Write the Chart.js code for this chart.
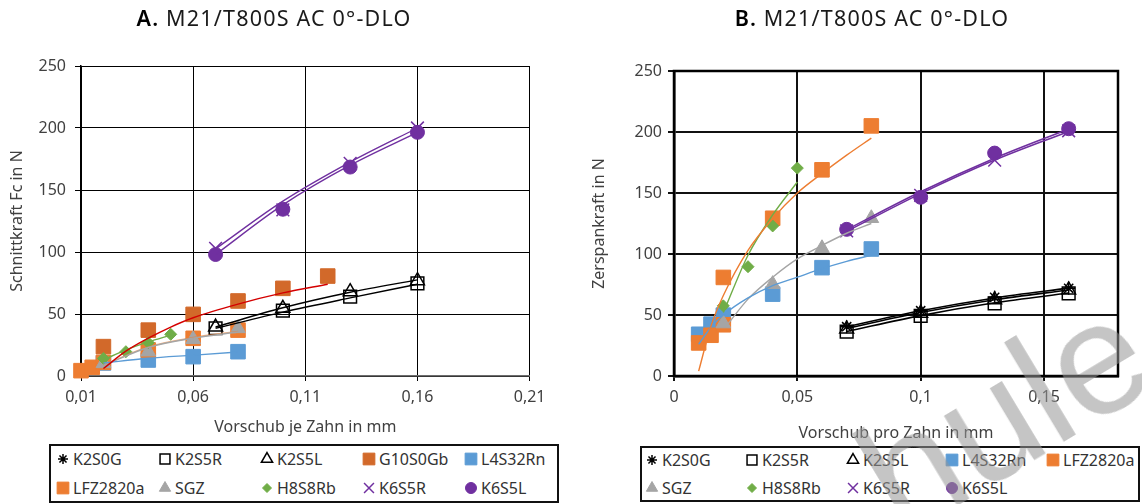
<!DOCTYPE html>
<html>
<head>
<meta charset="utf-8">
<script src="https://cdn.jsdelivr.net/npm/chart.js@4.4.1/dist/chart.umd.min.js"></script>
<style>
  html, body { margin: 0; padding: 0; background: #fff; }
  body { width: 1142px; height: 504px; position: relative; overflow: hidden; font-family: 'Noto Sans', sans-serif; }
  .panel { position: absolute; top: 0; width: 571px; height: 444px; }
  .title { position: absolute; top: 4px; font-size: 21.5px; line-height: 28px; letter-spacing: 1.2px; color: #1a1a1a; white-space: nowrap; transform: translateX(-50%); }
  .title b { font-weight: 600; color: #000; }
  .legend { position: absolute; border: 2px solid #111; box-sizing: border-box; }
  .lg-item { position: absolute; font-size: 16px; line-height: 20px; color: #333; white-space: nowrap; }
  .lg-item canvas { position: absolute; left: -18px; top: 2px; }
  .wm { position: absolute; left: 902px; top: 404px; font: 160px/160px 'Liberation Sans', sans-serif;
        color: rgba(150,150,150,0.55); transform-origin: 0 135px; transform: rotate(-31deg);
        white-space: nowrap; pointer-events: none; }
</style>
</head>
<body>
<div class="panel" style="left:0"><canvas id="chartA" width="571" height="444"></canvas></div>
<div class="panel" style="left:571px"><canvas id="chartB" width="571" height="444"></canvas></div>
<div class="title" style="left:274px"><b>A.</b> M21/T800S AC 0°-DLO</div>
<div class="title" style="left:872px"><b>B.</b> M21/T800S AC 0°-DLO</div>
<div class="legend" id="legendA" style="left:49px;top:444px;width:510px;height:59px"></div>
<div class="legend" id="legendB" style="left:640px;top:446px;width:500px;height:56px"></div>
<div class="wm">hule E</div>

<script>
/* ── Vorschub-Stufen (mm) ── */
var xK   = [0.07, 0.10, 0.13, 0.16];
var xA   = [0.02, 0.04, 0.06, 0.08];
var xH8  = [0.02, 0.03, 0.04, 0.05];
var xG10 = [0.02, 0.04, 0.06, 0.08, 0.10, 0.12];
var xLFZa = [0.01, 0.015, 0.02, 0.04, 0.06, 0.08];
var xLFZb = [0.01, 0.015, 0.02, 0.02, 0.04, 0.06, 0.08];
var xL4Sb = [0.01, 0.015, 0.02, 0.04, 0.06, 0.08];

/* ── A: Schnittkraft Fc in N ── */
var aK2S5R   = [38.5, 52.7, 64, 74.7];
var aK2S5L   = [39.5, 54.6, 68, 76.9];
var aG10S0Gb = [23.7, 37, 49.7, 60.5, 70.7, 80.6];
var aL4S32Rn = [10.5, 12.9, 15.6, 19.6];
var aLFZ2820a = [4.3, 7, 11, 21, 30.4, 37];
var aSGZ     = [10.2, 19.6, 29.6, 38.4];
var aH8S8Rb  = [14.2, 19.6, 26.9, 33.6];
var aK6S5R   = [103, 134, 171.5, 200];
var aK6S5L   = [98, 134.5, 168.5, 196.5];

// Trendlinien A
var xTrG10  = [0.02, 0.03, 0.04, 0.05, 0.06, 0.08, 0.10, 0.12];
var aTrG10  = [6, 20, 30.5, 39.5, 47, 58, 67, 74];
var aTrL4S  = [10.5, 14.3, 16.8, 19.3];
var aTrLFZ  = [9, 23.5, 31, 36];
var aTrSGZ  = [8.5, 23, 30.5, 35.5];
var aTrH8   = [13, 21, 27.5, 33];
var aTrK2S5R = [38.5, 51.5, 63, 74];
var aTrK2S5L = [39.5, 55, 67.5, 77.5];
var aTrK6S5R = [102.5, 141, 172.5, 200];
var aTrK6S5L = [98, 138, 170, 196.5];

/* ── B: Zerspankraft in N ── */
var bK2S0G   = [40.4, 53.5, 64.5, 71.9];
var bK2S5R   = [36.3, 49.2, 59.6, 67.8];
var bK2S5L   = [38.5, 51.5, 62.5, 70.5];
var bL4S32Rn = [34.2, 42.5, 49.9, 67.1, 88.8, 104.1];
var bLFZ2820a = [27.1, 33.4, 80.8, 42, 129.3, 169, 205];
var bSGZ     = [43, 75.3, 104.7, 129.3];
var bH8S8Rb  = [57.5, 89.6, 123, 170.4];
var bK6S5R   = [119, 148, 177, 201];
var bK6S5L   = [120.2, 146.5, 182.7, 202.7];

// Trendlinien B
var xTrB    = [0.01, 0.015, 0.02, 0.03, 0.04, 0.05, 0.06, 0.07, 0.08];
var bTrLFZ  = [4, 41, 66, 103, 129, 150, 166, 181, 195];
var bTrL4S  = [26, 40, 50, 64, 74, 81, 88, 94, 99];
var xTrSGZ  = [0.022, 0.03, 0.04, 0.05, 0.06, 0.07, 0.08];
var bTrSGZ  = [43, 63, 81, 96, 107, 117, 125];
var bTrH8   = [52, 99, 132, 159];
var bTrK2S0G = [40.5, 53.5, 64, 72];
var bTrK2S5L = [39, 52, 62.5, 70.5];
var bTrK2S5R = [36.5, 49.5, 60, 68];
var bTrK6S5R = [118.5, 149.5, 177, 200.5];
var bTrK6S5L = [120, 151, 178.5, 202.5];

/* ── Marker-Stile ── */
var seriesStyle = {
  K2S0G:    { style: 'star',      r: 6.5,  fill: 'rgba(0,0,0,0)', line: '#000',    bw: 1.5, lr: 5 },
  K2S5R:    { style: 'rect',      r: 9,    fill: 'rgba(0,0,0,0)', line: '#000',    bw: 1.5, lr: 7 },
  K2S5L:    { style: 'triangle',  r: 8,    fill: 'rgba(0,0,0,0)', line: '#000',    bw: 1.5, lr: 6.5 },
  G10S0Gb:  { style: 'rect',      r: 10.3, fill: '#d2692a', line: '#d2692a', bw: 1, lr: 8.3 },
  L4S32Rn:  { style: 'rect',      r: 10.3, fill: '#5b9bd5', line: '#5b9bd5', bw: 1, lr: 8.3 },
  LFZ2820a: { style: 'rect',      r: 10.3, fill: '#ed7d31', line: '#ed7d31', bw: 1, lr: 8.3 },
  SGZ:      { style: 'triangle',  r: 8.5,  fill: '#a5a5a5', line: '#a5a5a5', bw: 1, lr: 6.5 },
  H8S8Rb:   { style: 'rectRot',   r: 6,    fill: '#70ad47', line: '#70ad47', bw: 1, lr: 4.5 },
  K6S5R:    { style: 'crossRot',  r: 9,    fill: 'rgba(0,0,0,0)', line: '#7030a0', bw: 1.5, lr: 7 },
  K6S5L:    { style: 'circle',    r: 7,    fill: '#7030a0', line: '#7030a0', bw: 1, lr: 5.5 }
};
var excelOrder = ['K2S0G', 'K2S5R', 'K2S5L', 'G10S0Gb', 'L4S32Rn', 'LFZ2820a', 'SGZ', 'H8S8Rb', 'K6S5R', 'K6S5L'];

function pts(xs, ys) {
  return xs.map(function(x, i) { return { x: x, y: ys[i] }; });
}

function series(name, xs, ys) {
  var s = seriesStyle[name];
  return {
    label: name,
    data: pts(xs, ys),
    showLine: false,
    pointStyle: s.style,
    pointRadius: s.r,
    pointBackgroundColor: s.fill,
    pointBorderColor: s.line,
    pointBorderWidth: s.bw,
    clip: false,
    order: -excelOrder.indexOf(name)
  };
}

function trend(color, xs, ys, width) {
  return {
    label: '',
    data: pts(xs, ys),
    showLine: true,
    pointRadius: 0,
    borderColor: color,
    borderWidth: width || 1.4,
    cubicInterpolationMode: 'monotone',
    fill: false,
    order: -100
  };
}

function commaLabel(v) {
  return String(parseFloat(v.toFixed(3))).replace('.', ',');
}

/* ── Rahmen um die Plotfläche (nur B) ── */
var framePlugin = {
  id: 'frame',
  afterDraw: function(chart, args, opts) {
    if (!opts || !opts.width) return;
    var a = chart.chartArea, ctx = chart.ctx;
    ctx.save();
    ctx.strokeStyle = opts.color;
    ctx.lineWidth = opts.width;
    ctx.strokeRect(a.left, a.top, a.right - a.left, a.bottom - a.top);
    ctx.restore();
  }
};

function makeChart(id, cfg) {
  return new Chart(document.getElementById(id).getContext('2d'), {
    type: 'scatter',
    data: { datasets: cfg.datasets },
    options: {
      responsive: false,
      animation: false,
      events: [],
      layout: { padding: { left: 0, top: cfg.top, right: cfg.padRight, bottom: 0 } },
      plugins: {
        legend: { display: false },
        tooltip: { enabled: false },
        frame: cfg.frame
      },
      scales: {
        x: {
          type: 'linear',
          min: cfg.xMin, max: cfg.xMax,
          afterBuildTicks: function(s) {
            s.ticks = s.ticks.filter(function(t) {
              var k = (t.value - cfg.xMin) / 0.05;
              return Math.abs(k - Math.round(k)) < 1e-6;
            });
          },
          afterFit: function(s) { s.height = 444 - cfg.bottom; },
          ticks: {
            stepSize: 0.05, includeBounds: false, padding: 7,
            color: '#404040', font: { family: 'Noto Sans', size: 16 },
            callback: function(v) { return commaLabel(v); }
          },
          grid: { color: cfg.gridColor, lineWidth: cfg.gridWidth, tickLength: 5, tickColor: cfg.gridColor },
          border: { color: cfg.xBorder, width: cfg.borderWidth },
          title: {
            display: true, text: cfg.xTitle, color: '#404040',
            font: { family: 'Noto Sans', size: 16 }, padding: { top: 0, bottom: cfg.xTitlePad }
          }
        },
        y: {
          min: 0, max: 250,
          afterFit: function(s) { s.width = cfg.left; },
          ticks: {
            stepSize: 50, padding: cfg.yTickPad,
            color: '#404040', font: { family: 'Noto Sans', size: 16 }
          },
          grid: { color: cfg.gridColor, lineWidth: cfg.gridWidth, tickLength: 6, tickColor: cfg.gridColor },
          border: { color: '#000', width: cfg.borderWidth },
          title: {
            display: true, text: cfg.yTitle, color: '#404040',
            font: { family: 'Noto Sans', size: 16 }, padding: { top: cfg.yTitlePad, bottom: 0 }
          }
        }
      }
    },
    plugins: [framePlugin]
  });
}

/* ── A ── */
makeChart('chartA', {
  xMin: 0.01, xMax: 0.21,
  left: 81, top: 66, bottom: 376, padRight: 571 - 529.6,
  gridColor: '#000', gridWidth: 1, xBorder: '#6e6e6e', borderWidth: 1.5,
  xTitle: 'Vorschub je Zahn in mm', yTitle: 'Schnittkraft Fc in N',
  xTitlePad: 7, yTitlePad: 8, yTickPad: 9,
  frame: {},
  datasets: [
    series('K2S5R', xK, aK2S5R),
    series('K2S5L', xK, aK2S5L),
    series('G10S0Gb', xG10, aG10S0Gb),
    series('L4S32Rn', xA, aL4S32Rn),
    series('LFZ2820a', xLFZa, aLFZ2820a),
    series('SGZ', xA, aSGZ),
    series('H8S8Rb', xH8, aH8S8Rb),
    series('K6S5R', xK, aK6S5R),
    series('K6S5L', xK, aK6S5L),
    trend('#d40000', xTrG10, aTrG10),
    trend('#5b9bd5', xA, aTrL4S),
    trend('#a5a5a5', xA, aTrSGZ),
    trend('rgba(237,125,49,0.6)', xA, aTrLFZ),
    trend('#70ad47', xH8, aTrH8),
    trend('#000', xK, aTrK2S5R),
    trend('#000', xK, aTrK2S5L),
    trend('#7030a0', xK, aTrK6S5R),
    trend('#7030a0', xK, aTrK6S5L)
  ]
});

/* ── B ── */
makeChart('chartB', {
  xMin: 0, xMax: 0.18,
  left: 103, top: 71, bottom: 376, padRight: 24,
  gridColor: '#111', gridWidth: 2, xBorder: '#000', borderWidth: 2.5,
  xTitle: 'Vorschub pro Zahn in mm', yTitle: 'Zerspankraft in N',
  xTitlePad: 1, yTitlePad: 19, yTickPad: 6,
  frame: { color: '#000', width: 2.5 },
  datasets: [
    series('K2S0G', xK, bK2S0G),
    series('K2S5R', xK, bK2S5R),
    series('K2S5L', xK, bK2S5L),
    series('L4S32Rn', xL4Sb, bL4S32Rn),
    series('LFZ2820a', xLFZb, bLFZ2820a),
    series('SGZ', xA, bSGZ),
    series('H8S8Rb', xH8, bH8S8Rb),
    series('K6S5R', xK, bK6S5R),
    series('K6S5L', xK, bK6S5L),
    trend('#ed7d31', xTrB, bTrLFZ),
    trend('#5b9bd5', xTrB, bTrL4S),
    trend('#a5a5a5', xTrSGZ, bTrSGZ),
    trend('#70ad47', xH8, bTrH8),
    trend('#000', xK, bTrK2S0G, 1.6),
    trend('#000', xK, bTrK2S5L, 1.6),
    trend('#000', xK, bTrK2S5R, 1.6),
    trend('#7030a0', xK, bTrK6S5R, 1.6),
    trend('#7030a0', xK, bTrK6S5L, 1.6)
  ]
});

/* ── HTML-Legenden ── */
function buildLegend(boxId, rows, cols, rowY) {
  var box = document.getElementById(boxId);
  rows.forEach(function(row, ri) {
    row.forEach(function(name, ci) {
      var s = seriesStyle[name];
      var item = document.createElement('div');
      item.className = 'lg-item';
      item.style.left = (cols[ci] - 2) + 'px';
      item.style.top = (rowY[ri] - 2 - 10) + 'px';
      var c = document.createElement('canvas');
      c.width = 16; c.height = 16;
      var ctx = c.getContext('2d');
      ctx.fillStyle = s.fill;
      ctx.strokeStyle = s.line;
      ctx.lineWidth = s.bw;
      Chart.helpers.drawPoint(ctx, { pointStyle: s.style, radius: s.lr, borderWidth: s.bw, rotation: 0 }, 8, 8);
      item.appendChild(c);
      item.appendChild(document.createTextNode(name));
      box.appendChild(item);
    });
  });
}

buildLegend('legendA',
  [['K2S0G', 'K2S5R', 'K2S5L', 'G10S0Gb', 'L4S32Rn'],
   ['LFZ2820a', 'SGZ', 'H8S8Rb', 'K6S5R', 'K6S5L']],
  [24, 126, 228, 330, 432], [15.3, 44.3]);

buildLegend('legendB',
  [['K2S0G', 'K2S5R', 'K2S5L', 'L4S32Rn', 'LFZ2820a'],
   ['SGZ', 'H8S8Rb', 'K6S5R', 'K6S5L']],
  [22, 122, 223, 322, 423], [14, 42.3]);
</script>
</body>
</html>
